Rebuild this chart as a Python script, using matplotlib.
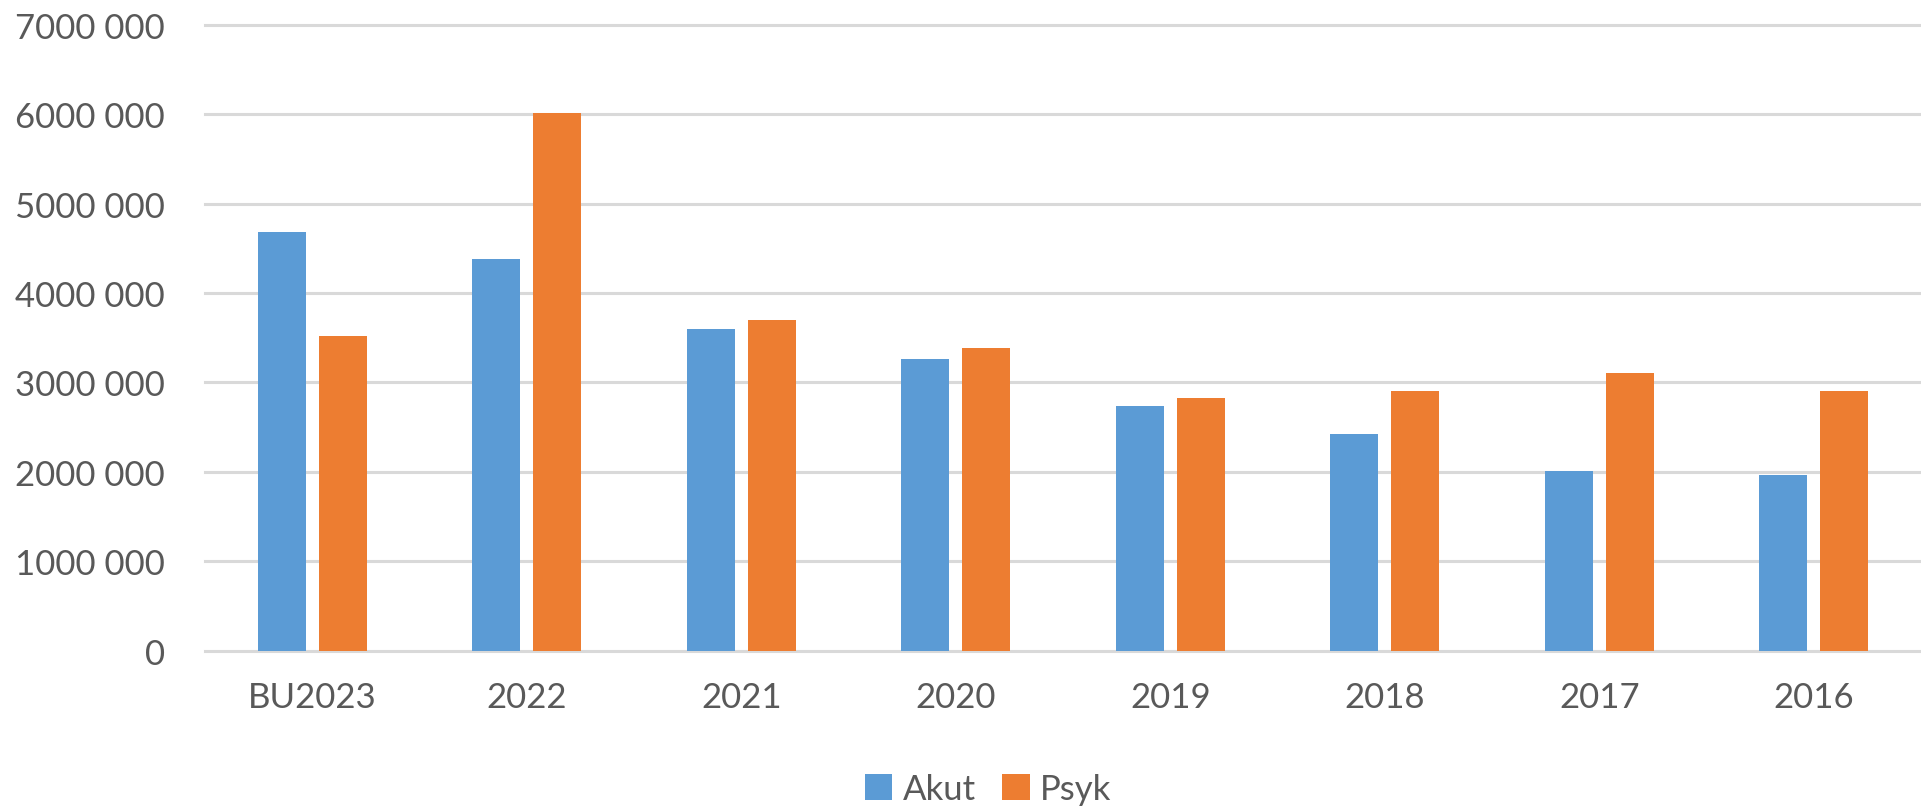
import matplotlib
matplotlib.use("Agg")
import matplotlib.pyplot as plt
import numpy as np
from matplotlib.ticker import FuncFormatter

# data
categories = ["BU2023", "2022", "2021", "2020", "2019", "2018", "2017", "2016"]
akut = [4681000, 4383000, 3600000, 3264000, 2738000, 2425000, 2015000, 1966000]
psyk = [3518000, 6016000, 3700000, 3387000, 2827000, 2905000, 3107000, 2905000]

blue = "#5B9BD5"
orange = "#ED7D31"
grey_txt = "#595959"
grid_col = "#D9D9D9"

plt.rcParams['font.family'] = ['Lato', 'DejaVu Sans']

fig = plt.figure(figsize=(19.21, 8.12), dpi=100)
ax = fig.add_axes([0.1067, 0.1973, 0.8933, 0.771])

x = np.arange(len(categories))
w = 0.224
off = 0.142
ax.bar(x - off, akut, w, color=blue, label="Akut", zorder=3)
ax.bar(x + off, psyk, w, color=orange, label="Psyk", zorder=3)

ax.set_xlim(-0.5, len(categories) - 0.5)
ax.set_ylim(0, 7000000)
ax.set_yticks(np.arange(0, 7000001, 1000000))


def fmt(v, pos):
    v = int(round(v))
    if v == 0:
        return "0"
    return "%d %03d" % (v // 1000, v % 1000)


ax.yaxis.set_major_formatter(FuncFormatter(fmt))
ax.set_xticks(x)
ax.set_xticklabels(categories)

ax.grid(axis="y", color=grid_col, linewidth=2.2, zorder=0)
for gl in ax.get_ygridlines():
    gl.set_clip_on(False)
for s in ax.spines.values():
    s.set_visible(False)
ax.tick_params(axis="both", length=0, labelsize=25, colors=grey_txt)
ax.tick_params(axis="y", pad=29)
ax.tick_params(axis="x", pad=22)

fig.legend(loc="center", bbox_to_anchor=(988 / 1921, 1 - 790 / 812), ncol=2,
           frameon=False, fontsize=25, labelcolor=grey_txt,
           handlelength=0.8, handleheight=0.8, handletextpad=0.3,
           columnspacing=0.75)

fig.savefig("out.png", dpi=100)
